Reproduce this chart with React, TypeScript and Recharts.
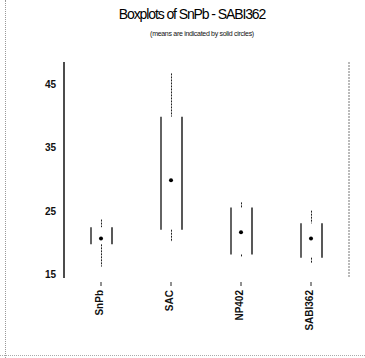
import React from 'react';
import { ComposedChart, Bar, Scatter, XAxis, YAxis } from 'recharts';

const categories = ['SnPb', 'SAC', 'NP402', 'SABI362'];
const minValues = [16.3, 20.2, 17.9, 16.9];
const q1Values = [19.8, 22.1, 18.2, 17.7];
const q3Values = [22.5, 39.9, 25.6, 23.1];
const maxValues = [23.7, 46.7, 26.4, 25.1];
const meanValues = [20.7, 29.9, 21.7, 20.7];
const yTicks = [15, 25, 35, 45];
const yTickLabels = ['15', '25', '35', '45'];

const data = categories.map((name, i) => ({
  name,
  range: [minValues[i], maxValues[i]],
  min: minValues[i],
  q1: q1Values[i],
  q3: q3Values[i],
  max: maxValues[i],
  mean: meanValues[i],
}));

const NARROW = '"Liberation Sans Narrow", "Arial Narrow", "Liberation Sans", Arial, sans-serif';
const SANS = '"Liberation Sans", Arial, sans-serif';

const BoxShape = (props: any) => {
  const { x, y, width, height, payload } = props;
  if (!payload) return null;
  const { min, max, q1, q3 } = payload;
  const top = Math.min(y, y + height);
  const bottom = Math.max(y, y + height);
  const toY = (v: number) => bottom - ((bottom - top) * (v - min)) / (max - min);
  const cx = x + width / 2;
  const yq1 = toY(q1);
  const yq3 = toY(q3);
  return (
    <g>
      <line x1={cx} x2={cx} y1={top} y2={yq3} stroke="#222" strokeWidth={1} strokeDasharray="2 1" />
      <line x1={cx} x2={cx} y1={yq1} y2={bottom} stroke="#222" strokeWidth={1} strokeDasharray="2 1" />
      <line x1={x} x2={x} y1={yq3} y2={yq1} stroke="#222" strokeWidth={1.4} />
      <line x1={x + width} x2={x + width} y1={yq3} y2={yq1} stroke="#111" strokeWidth={1.4} />
    </g>
  );
};

const MeanDot = (props: any) => {
  const { cx, cy } = props;
  return <circle cx={cx} cy={cy} r={2} fill="#000" />;
};

const CatTick = (props: any) => {
  const { x, y, payload } = props;
  return (
    <g>
      <line x1={x} x2={x} y1={y + 4} y2={y + 8} stroke="#222" strokeWidth={1} />
      <text
        transform={`translate(${x + 2}, ${y + 12}) rotate(-90)`}
        textAnchor="end"
        fontSize={10}
        fontWeight="bold"
        fontFamily={SANS}
        fill="#111"
      >
        {payload.value}
      </text>
    </g>
  );
};

export default function App() {
  return (
    <div style={{ position: 'absolute', left: 0, top: 0, width: 365, height: 358, background: '#fff' }}>
      <div style={{ position: 'absolute', left: 5, top: 0, width: 0, height: 358, borderLeft: '1px dotted #999' }} />
      <div style={{ position: 'absolute', left: 0, top: 355, width: 365, height: 0, borderTop: '1px dotted #aaa' }} />
      <div
        style={{
          position: 'absolute', left: 0, top: 6, width: 384, textAlign: 'center',
          fontFamily: NARROW, fontSize: 14, letterSpacing: -1.1, color: '#000', lineHeight: '16px',
        }}
      >
        Boxplots of SnPb - SABI362
      </div>
      <div
        style={{
          position: 'absolute', left: 0, top: 30, width: 404, textAlign: 'center',
          fontFamily: NARROW, fontSize: 7, letterSpacing: -0.3, color: '#111', lineHeight: '8px',
        }}
      >
        (means are indicated by solid circles)
      </div>
      <ComposedChart
        width={365}
        height={358}
        data={data}
        margin={{ top: 62, right: 15, left: 0, bottom: 20 }}
        style={{ position: 'absolute', left: 0, top: 0 }}
      >
        <XAxis
          dataKey="name"
          type="category"
          axisLine={false}
          tickLine={false}
          tickSize={0}
          tickMargin={0}
          interval={0}
          height={60}
          padding={{ left: 2, right: 3 }}
          tick={<CatTick />}
        />
        <YAxis
          yAxisId="left"
          type="number"
          domain={[14.5, 48.5]}
          ticks={yTicks}
          tickFormatter={(v: number) => yTickLabels[yTicks.indexOf(v)] ?? String(v)}
          allowDataOverflow
          tickLine={false}
          axisLine={{ stroke: '#111', strokeWidth: 1.5 }}
          width={64}
          tick={{ fontSize: 10, fontWeight: 'bold', fill: '#111', fontFamily: SANS }}
        />
        <YAxis
          yAxisId="right"
          orientation="right"
          type="number"
          domain={[14.5, 48.5]}
          tick={false}
          tickLine={false}
          axisLine={{ stroke: '#777', strokeWidth: 1, strokeDasharray: '2 1' }}
          width={1}
        />
        <Bar yAxisId="left" dataKey="range" barSize={21} shape={<BoxShape />} isAnimationActive={false} />
        <Scatter yAxisId="left" dataKey="mean" shape={<MeanDot />} isAnimationActive={false} />
      </ComposedChart>
    </div>
  );
}
